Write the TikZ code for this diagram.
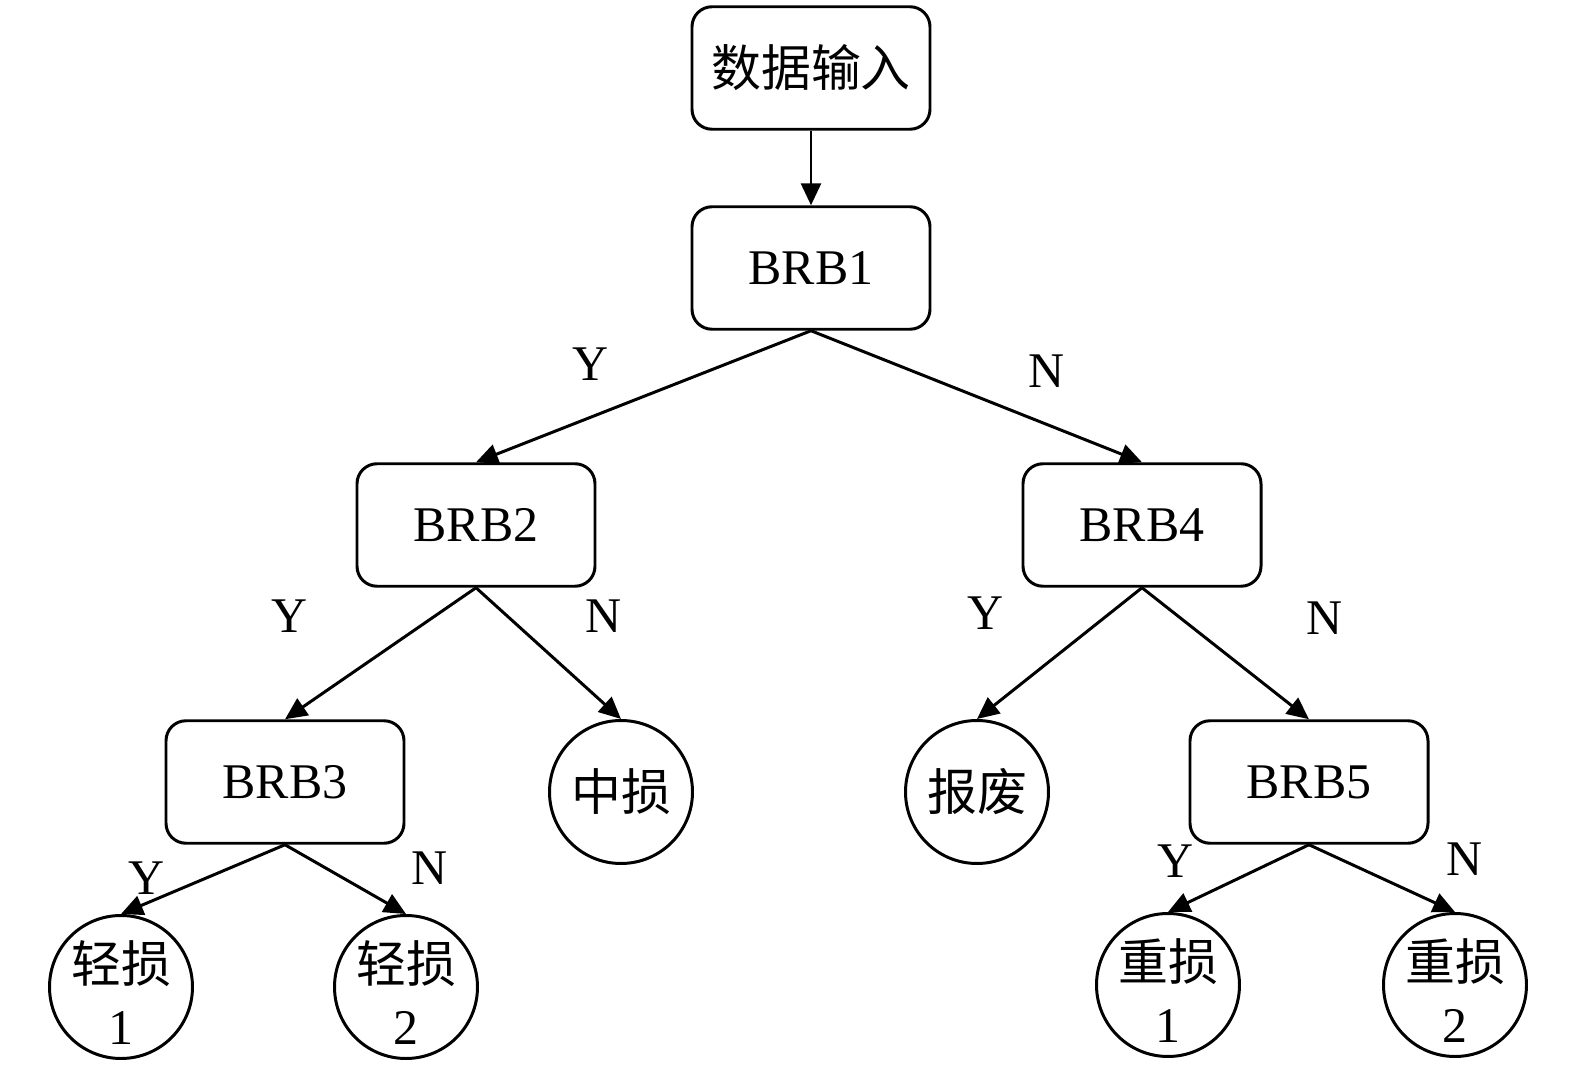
\documentclass[tikz,border=0pt]{standalone}
\usepackage{fontspec}
\setmainfont{Liberation Serif}
\newfontfamily\cjk{Noto Sans CJK SC}
\usetikzlibrary{arrows.meta}

% two lines inside a result circle, kept narrow so the circle keeps its size
\newcommand{\leaftext}[2]{\makebox[0pt]{\raisebox{-1.4mm}[\height][\depth]{\begin{tabular}{@{}c@{}}#1\\#2\end{tabular}}}}

\begin{document}
\begin{tikzpicture}[
  every node/.style={font=\fontsize{14.2}{17.5}\selectfont},
  box/.style={draw, line width=0.85pt, rounded corners=0.2cm, minimum width=2.38cm, minimum height=1.225cm, inner sep=0pt},
  leaf/.style={draw, circle, line width=0.85pt, minimum size=1.43cm, inner sep=0pt},
  arr/.style={line width=0.85pt, -{Triangle[length=2.2mm, width=2mm]}},
  yn/.style={inner sep=0pt}
]

  % Fix the page size
  \useasboundingbox (0,0) rectangle (15.75,-10.71);

  % Input and the rule bases
  \node[box] (input) at (8.11,-0.68) {\cjk 数据输入};
  \node[box] (brb1) at (8.11,-2.68) {BRB1};
  \node[box] (brb2) at (4.76,-5.25) {BRB2};
  \node[box] (brb4) at (11.42,-5.25) {BRB4};
  \node[box] (brb3) at (2.85,-7.82) {BRB3};
  \node[box] (brb5) at (13.09,-7.82) {BRB5};

  % Results
  \node[leaf] (mid) at (6.21,-7.92) {\cjk 中损};
  \node[leaf] (scrap) at (9.77,-7.92) {\cjk 报废};
  \node[leaf] (light1) at (1.21,-9.87) {\leaftext{\cjk 轻损}{1}};
  \node[leaf] (light2) at (4.06,-9.87) {\leaftext{\cjk 轻损}{2}};
  \node[leaf] (heavy1) at (11.68,-9.85) {\leaftext{\cjk 重损}{1}};
  \node[leaf] (heavy2) at (14.55,-9.85) {\leaftext{\cjk 重损}{2}};

  % Connectors
  \draw[arr] (input) -- (brb1);
  \draw[arr] (brb1.south) -- (brb2.north);
  \draw[arr] (brb1.south) -- (brb4.north);
  \draw[arr] (brb2.south) -- (brb3.north);
  \draw[arr] (brb2.south) -- (mid.north);
  \draw[arr] (brb4.south) -- (scrap.north);
  \draw[arr] (brb4.south) -- (brb5.north);
  \draw[arr] (brb3.south) -- (light1.north);
  \draw[arr] (brb3.south) -- (light2.north);
  \draw[arr] (brb5.south) -- (heavy1.north);
  \draw[arr] (brb5.south) -- (heavy2.north);

  % Branch labels
  \node[yn] (y1) at (5.91,-3.64) {Y};
  \node[yn] (n1) at (10.47,-3.71) {N};
  \node[yn] (y2) at (2.90,-6.16) {Y};
  \node[yn] (n2) at (6.04,-6.16) {N};
  \node[yn] (y4) at (9.86,-6.13) {Y};
  \node[yn] (n4) at (13.25,-6.18) {N};
  \node[yn] (y3) at (1.47,-8.78) {Y};
  \node[yn] (n3) at (4.30,-8.68) {N};
  \node[yn] (y5) at (11.76,-8.61) {Y};
  \node[yn] (n5) at (14.65,-8.59) {N};

\end{tikzpicture}
\end{document}
